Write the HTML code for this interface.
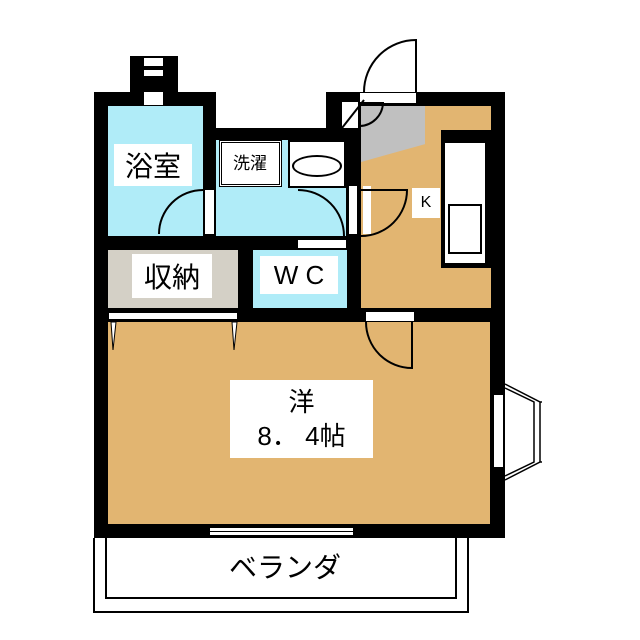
<!DOCTYPE html><html><head><style>
body{margin:0;background:#fff;width:640px;height:640px;overflow:hidden;position:relative;font-family:"Liberation Sans","Noto Sans CJK JP",sans-serif}
div{position:absolute;box-sizing:border-box}
.b{background:#000}.w{background:#fff}
.lbl{background:#fff;display:flex;align-items:center;justify-content:center;color:#000}
</style></head><body>
<div class="b" style="left:94px;top:92px;width:122px;height:446px"></div>
<div class="b" style="left:130px;top:56px;width:48px;height:40px"></div>
<div class="b" style="left:200px;top:128px;width:140px;height:200px"></div>
<div class="b" style="left:326px;top:92px;width:179px;height:446px"></div>
<div class="b" style="left:94px;top:300px;width:411px;height:238px"></div>
<div class="w" style="left:144px;top:58px;width:19px;height:8px"></div>
<div class="w" style="left:144px;top:70px;width:19px;height:6px"></div>
<div class="w" style="left:144px;top:92px;width:19px;height:13px"></div>
<div style="left:108px;top:106px;width:95px;height:130px;background:#b0ecf8"></div>
<div class="lbl" style="left:114px;top:144px;width:78px;height:42px;font-size:28px">浴室</div>
<div style="left:216px;top:140px;width:130px;height:96px;background:#b0ecf8"></div>
<div class="w" style="left:219px;top:140px;width:63px;height:47px;border:3px double #000"></div>
<div style="left:225px;top:150px;width:50px;height:28px;font-size:17px;text-align:center;line-height:28px">洗濯</div>
<div class="w" style="left:288px;top:140px;width:58px;height:48px;border:2px solid #000"></div>
<div style="left:292px;top:155px;width:50px;height:22px;border:2px solid #000;border-radius:50%"></div>
<div class="w" style="left:205px;top:190px;width:9px;height:44px"></div>
<div class="w" style="left:349px;top:186px;width:8px;height:48px"></div>
<div class="w" style="left:298px;top:240px;width:48px;height:8px"></div>
<div class="w" style="left:360px;top:93px;width:56px;height:10px"></div>
<div class="w" style="left:342px;top:102px;width:16px;height:26px"></div>
<div style="left:361px;top:106px;width:130px;height:202px;background:#e2b571"></div>
<div style="left:361px;top:106px;width:64px;height:56px;background:#c0c0c0;clip-path:polygon(0 0,100% 0,100% 68%,0 100%)"></div>
<div class="b" style="left:441px;top:130px;width:50px;height:138px"></div>
<div class="w" style="left:444px;top:142px;width:42px;height:122px;border:1px solid #000"></div>
<div class="w" style="left:448px;top:204px;width:34px;height:50px;border:2px solid #000"></div>
<div class="lbl" style="left:412px;top:188px;width:28px;height:30px;font-size:16px">K</div>
<div class="w" style="left:363px;top:186px;width:8px;height:48px"></div>
<div style="left:108px;top:250px;width:130px;height:58px;background:#d4d0c6"></div>
<div class="lbl" style="left:132px;top:254px;width:80px;height:44px;font-size:28px">収納</div>
<div style="left:253px;top:250px;width:94px;height:58px;background:#b0ecf8"></div>
<div class="lbl" style="left:260px;top:256px;width:78px;height:38px;font-size:26px">W C</div>
<div style="left:108px;top:322px;width:382px;height:202px;background:#e2b571"></div>
<div class="w" style="left:108px;top:312px;width:130px;height:8px;border:1px solid #000"></div>
<div class="w" style="left:366px;top:312px;width:48px;height:9px"></div>
<svg style="position:absolute;left:0;top:0" width="640" height="640">
<path d="M159 234 A44 44 0 0 1 203 190" fill="none" stroke="#000" stroke-width="2"/>
<path d="M298 190 A46 46 0 0 1 344 236" fill="none" stroke="#000" stroke-width="2"/>
<path d="M361 236 A46 46 0 0 0 407 190 L361 190" fill="none" stroke="#000" stroke-width="2"/>
<path d="M416 92 L416 40 A52 52 0 0 0 364 92" fill="none" stroke="#000" stroke-width="2"/>
<path d="M342 128 L364 100" stroke="#000" stroke-width="2"/>
<path d="M360 126 A24 24 0 0 0 383 103 L360 103" fill="none" stroke="#000" stroke-width="2"/>
<path d="M111 322 L113 350 L116 322 Z M232 322 L234 350 L237 322 Z" fill="#fff" stroke="#000" stroke-width="1"/>
<path d="M366 322 A46 46 0 0 0 412 368 L412 322" fill="none" stroke="#000" stroke-width="2"/>
<path d="M505 384 L540 402 L540 462 L505 480 M505 388 L534 402 L534 462 L505 476 M540 402 L542 402 M540 462 L542 462" fill="none" stroke="#000" stroke-width="1.5"/>
<path d="M94 538 L94 612 L468 612 L468 538 M106 538 L106 598 L456 598 L456 538" fill="none" stroke="#000" stroke-width="2"/>
</svg>
<div class="w" style="left:494px;top:394px;width:10px;height:74px;border:1px solid #000;border-left:none"></div>
<div class="w" style="left:210px;top:527px;width:143px;height:9px;border-top:1px solid #000;border-bottom:1px solid #000"></div>
<div class="b" style="left:210px;top:531px;width:143px;height:1px"></div>
<div class="lbl" style="left:230px;top:380px;width:143px;height:78px;font-size:26px;flex-direction:column;line-height:34px"><span>洋</span><span>8．&nbsp;4帖</span></div>
<div style="left:200px;top:548px;width:170px;height:40px;font-size:28px;text-align:center;line-height:40px">ベランダ</div>
</body></html>
